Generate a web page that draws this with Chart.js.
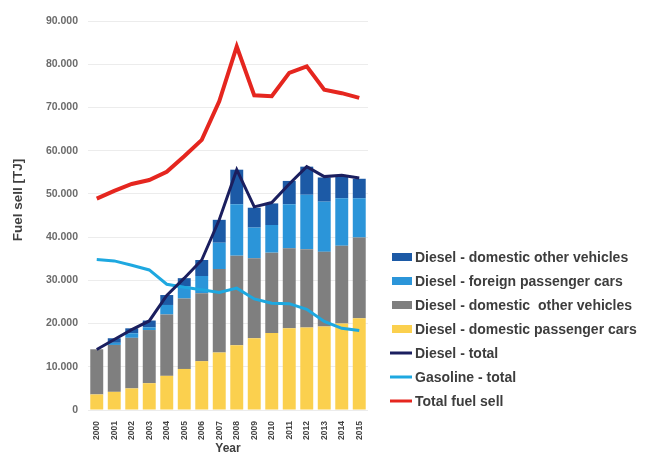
<!DOCTYPE html>
<html lang="en">
<head>
    <meta charset="UTF-8">
    <title>Fuel sell</title>
    <script src="https://cdn.jsdelivr.net/npm/chart.js"></script>
    <style>
        body { margin: 0; background: #fff; }
        canvas { display: block; }
    </style>
</head>
<body>
    <canvas id="fuel-chart" width="646" height="456"></canvas>
    <script>
        const years = ['2000', '2001', '2002', '2003', '2004', '2005', '2006', '2007',
                       '2008', '2009', '2010', '2011', '2012', '2013', '2014', '2015'];

        // stacked diesel parts [TJ]
        const dieselDomesticCars = [3600, 4200, 5000, 6200, 7900, 9500, 11300, 13300, 15000, 16600, 17800, 18900, 19100, 19300, 20000, 21200];
        const dieselDomesticOther = [10450, 10850, 11700, 12300, 14200, 16300, 15700, 19300, 20700, 18500, 18600, 18500, 18100, 17300, 18000, 18700];
        const dieselForeignCars = [0, 500, 1050, 640, 2200, 2750, 4000, 6100, 11900, 7100, 6400, 10200, 12600, 11600, 11000, 9100];
        const dieselOtherVehicles = [0, 1050, 1150, 1560, 2300, 1950, 3700, 5300, 8000, 4600, 5000, 5400, 6500, 5600, 5000, 4500];

        // totals [TJ]
        const dieselTotal = [14000, 16300, 18600, 20600, 26500, 30500, 34700, 44000, 55600, 47000, 48000, 52300, 56300, 54000, 54300, 53700];
        const gasolineTotal = [34800, 34500, 33500, 32400, 29100, 28400, 27800, 27200, 28200, 25700, 24700, 24600, 23300, 20500, 18900, 18400];
        const totalFuel = [48900, 50700, 52300, 53200, 55100, 58700, 62500, 71400, 84100, 72800, 72600, 78000, 79500, 74100, 73300, 72200];

        const yTicks = [0, 10000, 20000, 30000, 40000, 50000, 60000, 70000, 80000, 90000];

        const FONT = '"Liberation Sans", Arial, sans-serif';

        function fmt(v) {
            return String(v).replace(/\B(?=(\d{3})+(?!\d))/g, '.');
        }

        function barSet(label, data, color) {
            return { type: 'bar', label, data, backgroundColor: color, stack: 'diesel', order: 1,
                     categoryPercentage: 1, barPercentage: 0.74 };
        }
        function lineSet(label, data, color, width, stack) {
            return { type: 'line', label, data, borderColor: color, backgroundColor: color,
                     borderWidth: width, pointRadius: 0, tension: 0, fill: false, stack, order: 0 };
        }

        const datasets = [
            barSet('Diesel - domestic passenger cars', dieselDomesticCars, '#fbd04e'),
            barSet('Diesel - domestic  other vehicles', dieselDomesticOther, '#7f7f7f'),
            barSet('Diesel - foreign passenger cars', dieselForeignCars, '#2b95d9'),
            barSet('Diesel - domestic other vehicles', dieselOtherVehicles, '#1c5aa6'),
            lineSet('Diesel - total', dieselTotal, '#1b1f5f', 3, 'dt'),
            lineSet('Gasoline - total', gasolineTotal, '#1ea8e0', 3, 'gt'),
            lineSet('Total fuel sell', totalFuel, '#e5261f', 4, 'tf')
        ];

        // legend rows, top to bottom (dataset indices)
        const legendOrder = [3, 2, 1, 0, 4, 5, 6];

        // side legend and rotated y title, drawn by hand
        const sideLegend = {
            id: 'sideLegend',
            afterDraw(chart) {
                const ctx = chart.ctx;
                ctx.save();
                ctx.fillStyle = '#404040';
                ctx.font = 'bold 13.5px ' + FONT;
                ctx.textAlign = 'center';
                ctx.textBaseline = 'middle';
                ctx.translate(18, 200);
                ctx.rotate(-Math.PI / 2);
                ctx.fillText('Fuel sell [TJ]', 0, 0);
                ctx.restore();

                ctx.save();
                ctx.font = 'bold 14px ' + FONT;
                ctx.textBaseline = 'middle';
                legendOrder.forEach((i, row) => {
                    const ds = chart.data.datasets[i];
                    const y = 257 + row * 24;
                    if (ds.type === 'bar') {
                        ctx.fillStyle = ds.backgroundColor;
                        ctx.fillRect(392, y - 4, 20, 8);
                    } else {
                        ctx.strokeStyle = ds.borderColor;
                        ctx.lineWidth = 3;
                        ctx.beginPath();
                        ctx.moveTo(390, y);
                        ctx.lineTo(412, y);
                        ctx.stroke();
                    }
                    ctx.fillStyle = '#3d3d3d';
                    ctx.fillText(ds.label, 415, y + 1);
                });
                ctx.restore();
            }
        };

        new Chart(document.getElementById('fuel-chart'), {
            data: { labels: years, datasets },
            plugins: [sideLegend],
            options: {
                responsive: false,
                animation: false,
                layout: { padding: { top: 21, right: 278, left: 0, bottom: 0 } },
                plugins: {
                    legend: { display: false },
                    tooltip: { enabled: false }
                },
                scales: {
                    x: {
                        stacked: true,
                        grid: { display: false },
                        border: { display: false },
                        ticks: {
                            maxRotation: 90, minRotation: 90, padding: 3,
                            color: '#444', font: { family: FONT, size: 8.5, weight: 'bold' }
                        },
                        title: {
                            display: true, text: 'Year', color: '#404040', padding: 0,
                            font: { family: FONT, size: 12, weight: 'bold' }
                        },
                        afterFit(scale) { scale.height = 46; }
                    },
                    y: {
                        stacked: true,
                        min: 0,
                        max: 90000,
                        afterBuildTicks(scale) { scale.ticks = yTicks.map(v => ({ value: v })); },
                        grid: { color: '#ececec', drawTicks: false },
                        border: { display: false },
                        ticks: {
                            padding: 10, color: '#6b6b6b',
                            font: { family: FONT, size: 10.5, weight: 'bold' },
                            callback: v => fmt(v)
                        },
                        afterFit(scale) { scale.width = 88; }
                    }
                }
            }
        });
    </script>
</body>
</html>
